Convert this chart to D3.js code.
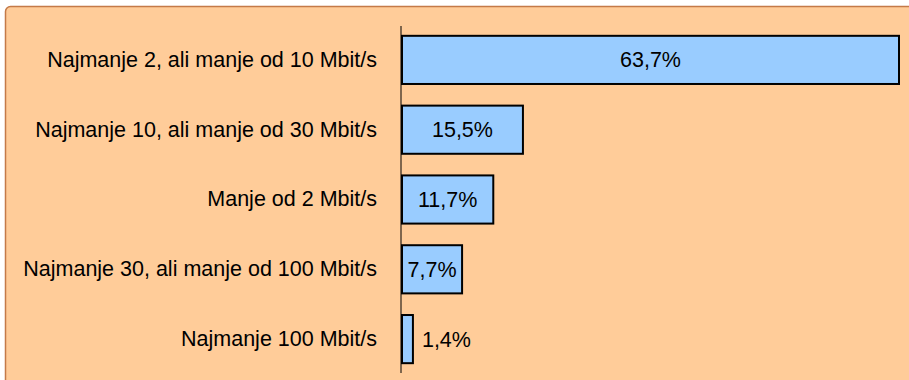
<!DOCTYPE html>
<html><head><meta charset="utf-8">
<script src="https://cdn.jsdelivr.net/npm/d3@7"></script>
<style>html,body{margin:0;padding:0;background:#fff;}svg{display:block;}</style>
</head><body>
<svg id="c" width="909" height="380"></svg>
<script>
const categories = [
  "Najmanje 2, ali manje od 10 Mbit/s",
  "Najmanje 10, ali manje od 30 Mbit/s",
  "Manje od 2 Mbit/s",
  "Najmanje 30, ali manje od 100 Mbit/s",
  "Najmanje 100 Mbit/s"
];
const values = [63.7, 15.5, 11.7, 7.7, 1.4];
const valueLabels = ["63,7%", "15,5%", "11,7%", "7,7%", "1,4%"];

const svg = d3.select("#c");
const font = "'Liberation Sans', Arial, sans-serif";
const fs = "21.5px";

svg.append("rect").attr("x", 5.5).attr("y", 6.5).attr("width", 920).attr("height", 400)
  .attr("rx", 5).attr("fill", "#FFCC99").attr("stroke", "#C47A48").attr("stroke-width", 1.5);

const x0 = 402;
const x = d3.scaleLinear().domain([0, 63.7]).range([x0, 899]);
const y = d3.scaleBand().domain(categories).range([25, 374]).paddingInner(0.31).paddingOuter(0.155);

const g = svg.append("g");
g.selectAll("rect.bar").data(values).join("rect").attr("class", "bar")
  .attr("x", x(0)).attr("y", (d, i) => y(categories[i]))
  .attr("width", d => x(d) - x(0)).attr("height", y.bandwidth())
  .attr("fill", "#99CCFF").attr("stroke", "#000").attr("stroke-width", 2);

const axis = d3.axisLeft(y).tickSize(0).tickPadding(24);
const ag = svg.append("g").attr("transform", `translate(${x0 - 1},0)`).call(axis);
ag.select(".domain").attr("d", `M0,26V373`).attr("stroke", "#000").attr("stroke-width", 1);
ag.selectAll("text").attr("font-family", font).attr("font-size", fs).attr("fill", "#000");

g.selectAll("text.val").data(values).join("text").attr("class", "val")
  .attr("x", (d) => (x(d) - x(0) > 50 ? (x(0) + x(d)) / 2 : x(d) + 9))
  .attr("text-anchor", d => (x(d) - x(0) > 50 ? "middle" : "start"))
  .attr("y", (d, i) => y(categories[i]) + y.bandwidth() / 2)
  .attr("dy", "0.35em")
  .attr("font-family", font).attr("font-size", fs).attr("fill", "#000")
  .text((d, i) => valueLabels[i]);
</script>
</body></html>
